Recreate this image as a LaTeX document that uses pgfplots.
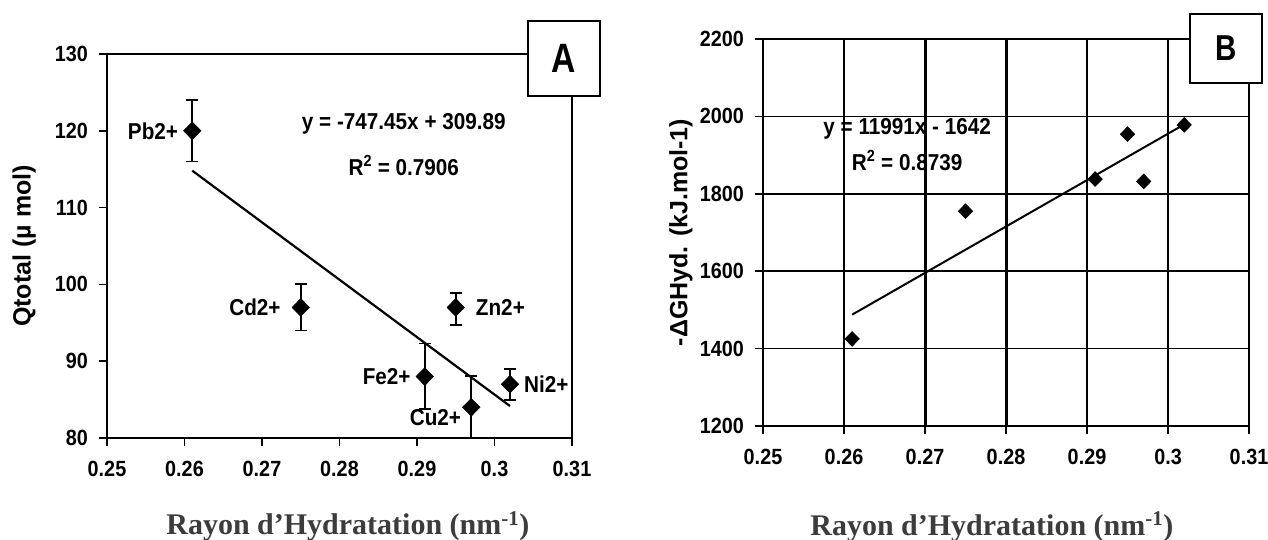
\documentclass[border=0pt]{standalone}
\usepackage{fontspec}
\usepackage{pgfplots}
\usepackage{pgfplotstable}
\pgfplotsset{compat=1.18}
\setmainfont{Liberation Sans}
\newfontfamily\cond{Liberation Sans}[FakeStretch=0.9]
\newfontfamily\condB{Liberation Sans}[FakeStretch=0.82]
\newfontfamily\serifx{Liberation Serif}
\definecolor{xlabgray}{HTML}{3C3C3C}

\newcommand{\tickfont}{\cond\bfseries\fontsize{22pt}{22pt}\selectfont}
\newcommand{\lblfont}{\cond\bfseries\fontsize{23pt}{23pt}\selectfont}
\newcommand{\yfont}{\bfseries\fontsize{25pt}{25pt}\selectfont}
\newcommand{\xfont}{\serifx\bfseries\fontsize{30pt}{30pt}\selectfont\color{xlabgray}}

\pgfplotstableread{
x y ep em
0.261 120 4.0 4.0
0.275 97 3.0 3.0
0.291 88 4.3 4.2
0.297 84 4.1 4.0
0.295 97 1.9 2.3
0.302 87 2.0 2.1
}\dataA

\pgfplotstableread{
x y
0.261 1425
0.275 1755
0.291 1838
0.295 1954
0.297 1832
0.302 1978
}\dataB

\pgfplotsset{commonax/.style={
  scale only axis, clip=false,
  xmin=0.25, xmax=0.31,
  xtick={0.25,0.26,0.27,0.28,0.29,0.3,0.31},
  xticklabels={0.25,0.26,0.27,0.28,0.29,0.3,0.31},
  tick align=outside, tick pos=left,
  major tick length=8pt,
  every tick/.style={black, line width=1.6pt},
  axis line style={line width=1.6pt},
  ticklabel style={font=\tickfont, inner sep=0pt},
  xticklabel style={yshift=-15pt},
  yticklabel style={xshift=-11pt},
  ylabel style={font=\yfont},
  xlabel style={font=\xfont},
}}

\begin{document}
\begin{tikzpicture}
\useasboundingbox (0pt,0pt) rectangle (1268pt,540pt);

% ---------------- Panel A ----------------
\begin{axis}[commonax,
  at={(107pt,102pt)}, anchor=south west,
  width=465pt, height=384pt,
  ymin=80, ymax=130,
  ytick={80,90,100,110,120,130},
  yticklabels={80,90,100,110,120,130},
  ylabel={Qtotal (µ mol)},
  ylabel style={at={(axis description cs:-0.178,0.5)}, anchor=center},
  xlabel={Rayon d’Hydratation (nm\textsuperscript{-1})},
  xlabel style={at={(axis description cs:0.518,-0.2526)}, anchor=base},
]
\addplot[black, line width=2.2pt] coordinates {(0.261,114.81) (0.302,84.16)};
\addplot[only marks, mark=diamond*, mark size=9pt,
  mark options={black, fill=black, xscale=1.3},
  error bars/.cd, y dir=both, y explicit,
  error mark=-,
  error bar style={black, line width=1.8pt},
  error mark options={rotate=90, black, line width=1.8pt, mark size=6pt}]
  table[x=x, y=y, y error plus=ep, y error minus=em]{\dataA};

\node[anchor=east, inner sep=0pt, font=\lblfont, xshift=-14pt] at (axis cs:0.261,120) {Pb2+};
\node[anchor=east, inner sep=0pt, font=\lblfont, xshift=-20pt] at (axis cs:0.275,97) {Cd2+};
\node[anchor=west, inner sep=0pt, font=\lblfont, xshift=20pt] at (axis cs:0.295,97) {Zn2+};
\node[anchor=east, inner sep=0pt, font=\lblfont, xshift=-14pt] at (axis cs:0.291,88) {Fe2+};
\node[anchor=east, inner sep=0pt, font=\lblfont, xshift=-10pt, yshift=-10pt] at (axis cs:0.297,84) {Cu2+};
\node[anchor=west, inner sep=0pt, font=\lblfont, xshift=14pt] at (axis cs:0.302,87) {Ni2+};

\node[font=\lblfont, inner sep=0pt] at (axis cs:0.2883,120.9) {y = -747.45x + 309.89};
\node[font=\lblfont, inner sep=0pt] at (axis cs:0.2883,115.5) {R\textsuperscript{2} = 0.7906};

\node[draw, line width=1.8pt, fill=white, minimum width=72pt, minimum height=75pt,
  inner sep=0pt, font=\condB\bfseries\fontsize{41pt}{41pt}\selectfont]
  at (rel axis cs:0.983,0.988) {A};
\end{axis}

% ---------------- Panel B ----------------
\begin{axis}[commonax,
  at={(763pt,114pt)}, anchor=south west,
  width=486pt, height=387pt,
  ymin=1200, ymax=2200,
  ytick={1200,1400,1600,1800,2000,2200},
  yticklabels={1200,1400,1600,1800,2000,2200},
  grid=major,
  major grid style={black, line width=1.5pt},
  extra x ticks={0.27,0.28},
  extra x tick labels={},
  extra x tick style={grid=major, major grid style={black, line width=3pt}},
  ylabel={-ΔGHyd. (kJ.mol-1)},
  ylabel style={at={(axis description cs:-0.1687,0.5)}, anchor=center},
  xlabel={Rayon d’Hydratation (nm\textsuperscript{-1})},
  xlabel style={at={(axis description cs:0.471,-0.2817)}, anchor=base},
]
\addplot[black, line width=2pt] coordinates {(0.261,1487.65) (0.302,1979.28)};
\addplot[only marks, mark=diamond*, mark size=7.5pt,
  mark options={black, fill=black, xscale=1.3}] table[x=x, y=y]{\dataB};

\node[font=\lblfont, inner sep=0pt] at (axis cs:0.2678,1967) {y = 11991x - 1642};
\node[font=\lblfont, inner sep=0pt] at (axis cs:0.2678,1887) {R\textsuperscript{2} = 0.8739};

\node[draw, line width=1.8pt, fill=white, minimum width=72pt, minimum height=69pt,
  inner sep=0pt, font=\condB\bfseries\fontsize{36pt}{36pt}\selectfont]
  at (rel axis cs:0.9527,0.9757) {B};
\end{axis}
\end{tikzpicture}
\end{document}
